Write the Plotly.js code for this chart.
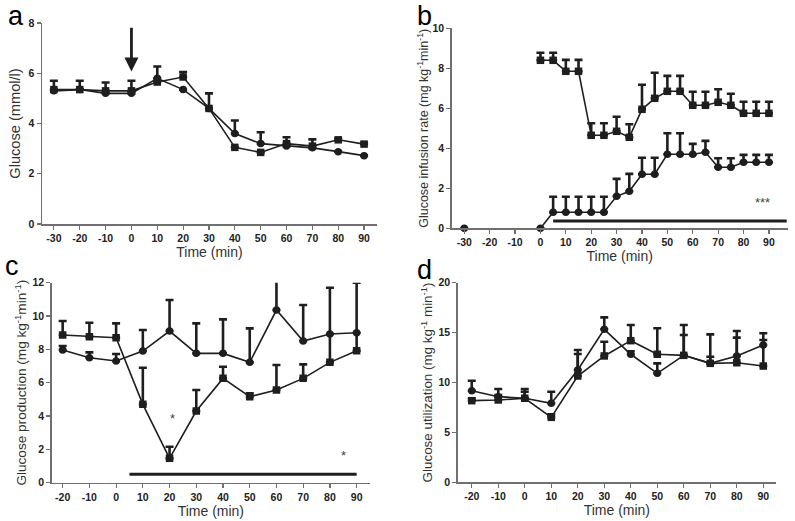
<!DOCTYPE html>
<html>
<head>
<meta charset="utf-8">
<script src="https://cdn.plot.ly/plotly-3.0.1.min.js"></script>
<style>html,body{margin:0;padding:0;background:#fff}#chart{width:795px;height:521px}</style>
</head>
<body>
<div id="chart"></div>
<script>
// ---- Panel a: plasma glucose ----
const aX = [-30,-20,-10,0,10,20,30,40,50,60,70,80,90];
const aCirc = [5.3,5.35,5.2,5.2,5.8,5.35,4.6,3.6,3.2,3.1,3.03,2.88,2.72];
const aCircErr = [0,0,0,0,0.47,0,0.6,0.52,0.45,0.35,0.34,0,0];
const aSq = [5.35,5.35,5.3,5.3,5.65,5.85,4.6,3.05,2.85,3.2,3.1,3.35,3.18];
const aSqErr = [0.35,0.35,0.33,0.4,0,0.2,0,0,0,0,0,0.05,0.05];
const aArrow = {x: 0, from: 7.87, to: 6.07};

// ---- Panel b: glucose infusion rate ----
const bSqX = [0,5,10,15,20,25,30,35,40,45,50,55,60,65,70,75,80,85,90];
const bSq = [8.4,8.4,7.85,7.85,4.65,4.65,4.85,4.55,5.95,6.5,6.85,6.85,6.15,6.15,6.3,6.15,5.75,5.75,5.75];
const bSqErr = [0.38,0.38,0.57,0.57,0.6,0.6,0.73,0.65,1.23,1.28,0.77,0.77,0.68,0.68,0.65,0.58,0.58,0.58,0.58];
const bCircX = [-30,-15,0,5,10,15,20,25,30,35,40,45,50,55,60,65,70,75,80,85,90];
const bCirc = [0,null,0,0.8,0.8,0.8,0.8,0.8,1.6,1.85,2.7,2.7,3.7,3.7,3.7,3.8,3.05,3.05,3.3,3.3,3.3];
const bCircErr = [0,0,0,0.78,0.78,0.78,0.78,0.78,0.87,0.87,0.83,0.83,1.05,1.05,0.52,0.57,0.45,0.45,0.37,0.37,0.37];
const bBarX = [5,97];
const bBarY = [0.37,0.37];
const bStar = {x: 87.6, y: 1.28, text: '***'};

// ---- Panel c: glucose production ----
const cX = [-20,-10,0,10,20,30,40,50,60,70,80,90];
const cSq = [8.86,8.76,8.7,4.7,1.46,4.3,6.26,5.16,5.56,6.26,7.22,7.92];
const cSqErr = [0.84,0.84,0.86,2.2,0.7,1.26,0.7,0.2,1.5,0.84,4.48,4.08];
const cCirc = [7.96,7.5,7.3,7.9,9.1,7.76,7.76,7.22,10.36,8.5,8.92,9.0];
const cCircErr = [0.24,0.32,0.42,1.26,1.86,1.8,2.04,2.04,2.5,2.16,0,0];
const cBarX = [5,90];
const cBarY = [0.5,0.5];
const cStars = [{x: 21, y: 3.86, text: '*'}, {x: 85, y: 1.66, text: '*'}];

// ---- Panel d: glucose utilization ----
const dX = [-20,-10,0,10,20,30,40,50,60,70,80,90];
const dCirc = [9.18,8.58,8.42,7.92,11.25,15.33,12.83,10.92,12.72,11.92,12.65,13.76];
const dCircErr = [1.0,0.77,0.66,1.16,2.0,1.2,0.3,1.0,2.04,2.9,1.85,0.5];
const dSq = [8.18,8.25,8.42,6.51,10.65,12.66,14.19,12.83,12.72,11.92,11.98,11.65];
const dSqErr = [0.2,0.5,0.93,0.3,2.2,1.43,1.57,2.6,3.04,0.66,3.18,3.28];

// ---- tick labels ----
const xTicksLong = [-30,-20,-10,0,10,20,30,40,50,60,70,80,90];
const xTicksShort = [-20,-10,0,10,20,30,40,50,60,70,80,90];
const xLabelsLong = ['-30','-20','-10','0','10','20','30','40','50','60','70','80','90'];
const xLabelsShort = ['-20','-10','0','10','20','30','40','50','60','70','80','90'];

const INK = '#1e1e1e';
function series(x, y, err, sym, xa, ya, clip) {
  return {
    type: 'scatter', mode: 'lines+markers', x: x, y: y, xaxis: xa, yaxis: ya,
    cliponaxis: clip, connectgaps: false, showlegend: false, hoverinfo: 'skip',
    line: {color: INK, width: 1.6},
    marker: {symbol: sym, size: 7.5, color: INK},
    error_y: {type: 'data', symmetric: false, array: err,
      arrayminus: err.map(() => 0), color: INK, thickness: 2.6, width: 4}
  };
}
function hbar(x, y, xa, ya) {
  return {type: 'scatter', mode: 'lines', x: x, y: y, xaxis: xa, yaxis: ya,
    cliponaxis: false, showlegend: false, hoverinfo: 'skip',
    line: {color: INK, width: 3}};
}

const traces = [
  series(aX, aCirc, aCircErr, 'circle', 'x', 'y', false),
  series(aX, aSq, aSqErr, 'square', 'x', 'y', false),
  series(bSqX, bSq, bSqErr, 'square', 'x2', 'y2', false),
  series(bCircX, bCirc, bCircErr, 'circle', 'x2', 'y2', false),
  hbar(bBarX, bBarY, 'x2', 'y2'),
  series(cX, cSq, cSqErr, 'square', 'x3', 'y3', true),
  series(cX, cCirc, cCircErr, 'circle', 'x3', 'y3', true),
  hbar(cBarX, cBarY, 'x3', 'y3'),
  series(dX, dCirc, dCircErr, 'circle', 'x4', 'y4', false),
  series(dX, dSq, dSqErr, 'square', 'x4', 'y4', false)
];

const W = 795, H = 521;
const px = (a, b) => [a / W, b / W];
const py = (top, bottom) => [1 - bottom / H, 1 - top / H];

const FAM = 'Arial, Liberation Sans, sans-serif';
const tickfont = {family: FAM, size: 10.5, weight: 'bold', color: '#222'};
const xtitlefont = {family: FAM, size: 14, color: '#333'};
const AX = '#707070';
function xax(domain, range, anchor, tickvals, ticktext) {
  return {domain: domain, range: range, anchor: anchor, tickmode: 'array',
    tickvals: tickvals, ticktext: ticktext,
    showgrid: false, zeroline: false, showline: true, linecolor: AX, linewidth: 1.5,
    ticks: 'outside', ticklen: 4, tickwidth: 1.2, tickcolor: AX, tickfont: tickfont,
    title: {text: 'Time (min)', font: xtitlefont, standoff: 4}, fixedrange: true};
}
function yax(domain, range, anchor, dtick, title, fsize, standoff) {
  return {domain: domain, range: range, anchor: anchor, dtick: dtick,
    showgrid: false, zeroline: false, showline: true, linecolor: AX, linewidth: 1.5,
    ticks: 'outside', ticklen: 4, tickwidth: 1.2, tickcolor: AX, tickfont: tickfont,
    title: {text: title, font: {family: FAM, size: fsize, color: '#333'}, standoff: standoff},
    fixedrange: true};
}

const starFont = {family: FAM, size: 13, color: '#444'};
const letterFont = {family: FAM, size: 27, color: '#000'};
function letter(t, x, y) {
  return {xref: 'paper', yref: 'paper', x: x / W, y: 1 - y / H, xanchor: 'center', yanchor: 'middle',
    text: t, showarrow: false, font: letterFont};
}
const annotations = [
  {xref: 'x', yref: 'y', axref: 'x', ayref: 'y', x: aArrow.x, y: aArrow.to, ax: aArrow.x, ay: aArrow.from,
   showarrow: true, arrowhead: 2, arrowsize: 1, arrowwidth: 2.8, arrowcolor: INK, text: ''},
  {xref: 'x2', yref: 'y2', x: bStar.x, y: bStar.y, text: bStar.text, showarrow: false, font: starFont},
  ...cStars.map(s => ({xref: 'x3', yref: 'y3', x: s.x, y: s.y, text: s.text, showarrow: false, font: starFont})),
  letter('a', 16, 16),
  letter('b', 424, 16),
  letter('c', 12, 266),
  letter('d', 424, 270)
];

const layout = {
  width: W, height: H, margin: {l: 0, r: 0, t: 0, b: 0},
  paper_bgcolor: '#fff', plot_bgcolor: '#fff', showlegend: false,
  xaxis: xax(px(42, 377), [-34.6, 95], 'y', xTicksLong, xLabelsLong),
  yaxis: yax(py(23, 224), [0, 8], 'x', 2, 'Glucose (mmol/l)', 14.6, 4),
  xaxis2: xax(px(451.7, 787.7), [-34.96, 97.4], 'y2', xTicksLong, xLabelsLong),
  yaxis2: yax(py(28.3, 228.3), [0, 10], 'x2', 2, 'Glucose infusion rate (mg kg<sup>-1</sup>min<sup>-1</sup>)', 12.5, 1),
  xaxis3: xax(px(51.7, 370), [-24.1, 95], 'y3', xTicksShort, xLabelsShort),
  yaxis3: yax(py(282.7, 482.7), [0, 12], 'x3', 2, 'Glucose production (mg kg<sup>-1</sup>min<sup>-1</sup>)', 13.6, 2),
  xaxis4: xax(px(457.7, 776), [-25.3, 94.8], 'y4', xTicksShort, xLabelsShort),
  yaxis4: yax(py(282.7, 482.3), [0, 20], 'x4', 5, 'Glucose utilization (mg kg<sup>-1</sup> min<sup>-1</sup>)', 13.4, 2),
  annotations: annotations
};

Plotly.newPlot('chart', traces, layout, {staticPlot: true, displayModeBar: false});
</script>
</body>
</html>
